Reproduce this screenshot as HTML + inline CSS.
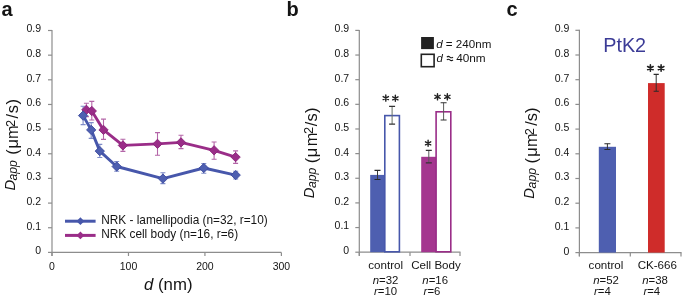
<!DOCTYPE html><html><head><meta charset="utf-8"><style>html,body{margin:0;padding:0;background:#fff;width:685px;height:298px;overflow:hidden}svg{display:block;will-change:transform}text{font-family:"Liberation Sans",sans-serif}</style></head><body>
<svg width="685" height="298" viewBox="0 0 685 298">
<rect width="685" height="298" fill="#fff"/>
<text x="1.5" y="15.5" font-size="20" font-weight="bold" fill="#141414">a</text>
<text x="286.5" y="15.5" font-size="20" font-weight="bold" fill="#141414">b</text>
<text x="506.5" y="15.5" font-size="20" font-weight="bold" fill="#141414">c</text>
<line x1="52" y1="30.0" x2="52" y2="256.0" stroke="#8d8d8d" stroke-width="1.2"/>
<line x1="48" y1="252.40" x2="52" y2="252.40" stroke="#8d8d8d" stroke-width="1.2"/>
<text x="41.1" y="254.30" text-anchor="end" font-size="10.5" fill="#141414">0</text>
<line x1="48" y1="227.74" x2="52" y2="227.74" stroke="#8d8d8d" stroke-width="1.2"/>
<text x="41.1" y="229.64" text-anchor="end" font-size="10.5" fill="#141414">0.1</text>
<line x1="48" y1="203.09" x2="52" y2="203.09" stroke="#8d8d8d" stroke-width="1.2"/>
<text x="41.1" y="204.99" text-anchor="end" font-size="10.5" fill="#141414">0.2</text>
<line x1="48" y1="178.43" x2="52" y2="178.43" stroke="#8d8d8d" stroke-width="1.2"/>
<text x="41.1" y="180.33" text-anchor="end" font-size="10.5" fill="#141414">0.3</text>
<line x1="48" y1="153.78" x2="52" y2="153.78" stroke="#8d8d8d" stroke-width="1.2"/>
<text x="41.1" y="155.68" text-anchor="end" font-size="10.5" fill="#141414">0.4</text>
<line x1="48" y1="129.12" x2="52" y2="129.12" stroke="#8d8d8d" stroke-width="1.2"/>
<text x="41.1" y="131.02" text-anchor="end" font-size="10.5" fill="#141414">0.5</text>
<line x1="48" y1="104.47" x2="52" y2="104.47" stroke="#8d8d8d" stroke-width="1.2"/>
<text x="41.1" y="106.37" text-anchor="end" font-size="10.5" fill="#141414">0.6</text>
<line x1="48" y1="79.81" x2="52" y2="79.81" stroke="#8d8d8d" stroke-width="1.2"/>
<text x="41.1" y="81.71" text-anchor="end" font-size="10.5" fill="#141414">0.7</text>
<line x1="48" y1="55.16" x2="52" y2="55.16" stroke="#8d8d8d" stroke-width="1.2"/>
<text x="41.1" y="57.06" text-anchor="end" font-size="10.5" fill="#141414">0.8</text>
<line x1="48" y1="30.50" x2="52" y2="30.50" stroke="#8d8d8d" stroke-width="1.2"/>
<text x="41.1" y="32.40" text-anchor="end" font-size="10.5" fill="#141414">0.9</text>
<line x1="52" y1="252.4" x2="281.4" y2="252.4" stroke="#8d8d8d" stroke-width="1.2"/>
<line x1="52.00" y1="252.4" x2="52.00" y2="256" stroke="#8d8d8d" stroke-width="1.2"/>
<text x="52.00" y="269.8" text-anchor="middle" font-size="10.5" fill="#141414">0</text>
<line x1="128.47" y1="252.4" x2="128.47" y2="256" stroke="#8d8d8d" stroke-width="1.2"/>
<text x="128.47" y="269.8" text-anchor="middle" font-size="10.5" fill="#141414">100</text>
<line x1="204.93" y1="252.4" x2="204.93" y2="256" stroke="#8d8d8d" stroke-width="1.2"/>
<text x="204.93" y="269.8" text-anchor="middle" font-size="10.5" fill="#141414">200</text>
<line x1="281.40" y1="252.4" x2="281.40" y2="256" stroke="#8d8d8d" stroke-width="1.2"/>
<text x="281.40" y="269.8" text-anchor="middle" font-size="10.5" fill="#141414">300</text>
<text x="144" y="290.0" font-size="16.8" fill="#141414"><tspan font-style="italic">d</tspan> (nm)</text>
<text transform="translate(15.10,190.60) rotate(-90)" font-size="14.8" font-style="italic" fill="#141414">D</text>
<text transform="translate(16.90,180.50) rotate(-90)" font-size="12.2" font-style="italic" fill="#141414">app</text>
<text transform="translate(18.30,154.70) rotate(-90)" font-size="16.4" fill="#141414">(</text>
<text transform="translate(18.30,148.54) rotate(-90)" font-size="16.4" fill="#141414">μ</text>
<text transform="translate(18.30,139.09) rotate(-90)" font-size="16.4" fill="#141414">m</text>
<text transform="translate(14.60,127.00) rotate(-90)" font-size="12.8" fill="#141414">2</text>
<text transform="translate(18.30,118.60) rotate(-90)" font-size="16.4" fill="#141414"><tspan letter-spacing="0.7">/s)</tspan></text>
<path d="M83.1 106.3V124.6" stroke="#7f8cc8" stroke-width="1.1" fill="none"/>
<path d="M80.6 106.3H85.6M80.6 124.6H85.6" stroke="#7f8cc8" stroke-width="1.1" fill="none"/>
<path d="M91.2 122.6V138.4" stroke="#7f8cc8" stroke-width="1.1" fill="none"/>
<path d="M88.7 122.6H93.7M88.7 138.4H93.7" stroke="#7f8cc8" stroke-width="1.1" fill="none"/>
<path d="M99.8 144.4V157.5" stroke="#7f8cc8" stroke-width="1.1" fill="none"/>
<path d="M97.3 144.4H102.3M97.3 157.5H102.3" stroke="#7f8cc8" stroke-width="1.1" fill="none"/>
<path d="M116.7 161.5V171.3" stroke="#7f8cc8" stroke-width="1.1" fill="none"/>
<path d="M114.2 161.5H119.2M114.2 171.3H119.2" stroke="#7f8cc8" stroke-width="1.1" fill="none"/>
<path d="M162.9 172.7V183.6" stroke="#7f8cc8" stroke-width="1.1" fill="none"/>
<path d="M160.4 172.7H165.4M160.4 183.6H165.4" stroke="#7f8cc8" stroke-width="1.1" fill="none"/>
<path d="M203.8 163.5V173.2" stroke="#7f8cc8" stroke-width="1.1" fill="none"/>
<path d="M201.3 163.5H206.3M201.3 173.2H206.3" stroke="#7f8cc8" stroke-width="1.1" fill="none"/>
<path d="M235.7 171.2V179.0" stroke="#7f8cc8" stroke-width="1.1" fill="none"/>
<path d="M233.2 171.2H238.2M233.2 179.0H238.2" stroke="#7f8cc8" stroke-width="1.1" fill="none"/>
<path d="M86.4 103.2V116.6" stroke="#b466a8" stroke-width="1.1" fill="none"/>
<path d="M83.9 103.2H88.9M83.9 116.6H88.9" stroke="#b466a8" stroke-width="1.1" fill="none"/>
<path d="M91.8 101.4V120.0" stroke="#b466a8" stroke-width="1.1" fill="none"/>
<path d="M89.3 101.4H94.3M89.3 120.0H94.3" stroke="#b466a8" stroke-width="1.1" fill="none"/>
<path d="M103.5 119.1V139.4" stroke="#b466a8" stroke-width="1.1" fill="none"/>
<path d="M101.0 119.1H106.0M101.0 139.4H106.0" stroke="#b466a8" stroke-width="1.1" fill="none"/>
<path d="M122.9 139.3V151.4" stroke="#b466a8" stroke-width="1.1" fill="none"/>
<path d="M120.4 139.3H125.4M120.4 151.4H125.4" stroke="#b466a8" stroke-width="1.1" fill="none"/>
<path d="M157.5 132.6V155.2" stroke="#b466a8" stroke-width="1.1" fill="none"/>
<path d="M155.0 132.6H160.0M155.0 155.2H160.0" stroke="#b466a8" stroke-width="1.1" fill="none"/>
<path d="M181.0 135.3V148.6" stroke="#b466a8" stroke-width="1.1" fill="none"/>
<path d="M178.5 135.3H183.5M178.5 148.6H183.5" stroke="#b466a8" stroke-width="1.1" fill="none"/>
<path d="M214.1 142.0V159.2" stroke="#b466a8" stroke-width="1.1" fill="none"/>
<path d="M211.6 142.0H216.6M211.6 159.2H216.6" stroke="#b466a8" stroke-width="1.1" fill="none"/>
<path d="M235.6 150.9V163.4" stroke="#b466a8" stroke-width="1.1" fill="none"/>
<path d="M233.1 150.9H238.1M233.1 163.4H238.1" stroke="#b466a8" stroke-width="1.1" fill="none"/>
<polyline points="86.4,109.8 91.8,111.0 103.5,129.9 122.9,145.4 157.5,143.9 181.0,142.4 214.1,150.3 235.6,157.1" fill="none" stroke="#9a2d88" stroke-width="2.9" stroke-linejoin="round"/>
<path d="M86.4 105.14999999999999L91.05000000000001 109.8L86.4 114.45L81.75 109.8Z" fill="#9a2d88" stroke="#8a2479" stroke-width="0.9"/>
<path d="M91.8 106.35L96.45 111.0L91.8 115.65L87.14999999999999 111.0Z" fill="#9a2d88" stroke="#8a2479" stroke-width="0.9"/>
<path d="M103.5 125.25L108.15 129.9L103.5 134.55L98.85 129.9Z" fill="#9a2d88" stroke="#8a2479" stroke-width="0.9"/>
<path d="M122.9 140.75L127.55000000000001 145.4L122.9 150.05L118.25 145.4Z" fill="#9a2d88" stroke="#8a2479" stroke-width="0.9"/>
<path d="M157.5 139.25L162.15 143.9L157.5 148.55L152.85 143.9Z" fill="#9a2d88" stroke="#8a2479" stroke-width="0.9"/>
<path d="M181.0 137.75L185.65 142.4L181.0 147.05L176.35 142.4Z" fill="#9a2d88" stroke="#8a2479" stroke-width="0.9"/>
<path d="M214.1 145.65L218.75 150.3L214.1 154.95000000000002L209.45 150.3Z" fill="#9a2d88" stroke="#8a2479" stroke-width="0.9"/>
<path d="M235.6 152.45L240.25 157.1L235.6 161.75L230.95 157.1Z" fill="#9a2d88" stroke="#8a2479" stroke-width="0.9"/>
<polyline points="83.1,115.6 91.2,129.9 99.8,151.1 116.7,166.5 162.9,178.6 203.8,168.0 235.7,175.1" fill="none" stroke="#4757ab" stroke-width="2.9" stroke-linejoin="round"/>
<path d="M83.1 110.94999999999999L87.75 115.6L83.1 120.25L78.44999999999999 115.6Z" fill="#4e5fb0" stroke="#3b4a9e" stroke-width="0.9"/>
<path d="M91.2 125.25L95.85000000000001 129.9L91.2 134.55L86.55 129.9Z" fill="#4e5fb0" stroke="#3b4a9e" stroke-width="0.9"/>
<path d="M99.8 146.45L104.45 151.1L99.8 155.75L95.14999999999999 151.1Z" fill="#4e5fb0" stroke="#3b4a9e" stroke-width="0.9"/>
<path d="M116.7 161.85L121.35000000000001 166.5L116.7 171.15L112.05 166.5Z" fill="#4e5fb0" stroke="#3b4a9e" stroke-width="0.9"/>
<path d="M162.9 173.95L167.55 178.6L162.9 183.25L158.25 178.6Z" fill="#4e5fb0" stroke="#3b4a9e" stroke-width="0.9"/>
<path d="M203.8 163.35L208.45000000000002 168.0L203.8 172.65L199.15 168.0Z" fill="#4e5fb0" stroke="#3b4a9e" stroke-width="0.9"/>
<path d="M235.7 170.45L240.35 175.1L235.7 179.75L231.04999999999998 175.1Z" fill="#4e5fb0" stroke="#3b4a9e" stroke-width="0.9"/>
<line x1="65" y1="221.2" x2="95.6" y2="221.2" stroke="#4757ab" stroke-width="3.0"/>
<path d="M80.4 217.29999999999998L84.30000000000001 221.2L80.4 225.1L76.5 221.2Z" fill="#4757ab"/>
<line x1="65" y1="235.4" x2="95.6" y2="235.4" stroke="#9a2d88" stroke-width="3.0"/>
<path d="M80.4 231.5L84.30000000000001 235.4L80.4 239.3L76.5 235.4Z" fill="#9a2d88"/>
<text x="101.2" y="223.9" font-size="11.85" fill="#141414">NRK - lamellipodia (n=32, r=10)</text>
<text x="101.2" y="237.6" font-size="11.85" fill="#141414">NRK cell body (n=16, r=6)</text>
<line x1="359.3" y1="29.9" x2="359.3" y2="255.79999999999998" stroke="#8d8d8d" stroke-width="1.2"/>
<line x1="355.3" y1="252.20" x2="359.3" y2="252.20" stroke="#8d8d8d" stroke-width="1.2"/>
<text x="349.2" y="254.10" text-anchor="end" font-size="10.5" fill="#141414">0</text>
<line x1="355.3" y1="227.56" x2="359.3" y2="227.56" stroke="#8d8d8d" stroke-width="1.2"/>
<text x="349.2" y="229.46" text-anchor="end" font-size="10.5" fill="#141414">0.1</text>
<line x1="355.3" y1="202.91" x2="359.3" y2="202.91" stroke="#8d8d8d" stroke-width="1.2"/>
<text x="349.2" y="204.81" text-anchor="end" font-size="10.5" fill="#141414">0.2</text>
<line x1="355.3" y1="178.27" x2="359.3" y2="178.27" stroke="#8d8d8d" stroke-width="1.2"/>
<text x="349.2" y="180.17" text-anchor="end" font-size="10.5" fill="#141414">0.3</text>
<line x1="355.3" y1="153.62" x2="359.3" y2="153.62" stroke="#8d8d8d" stroke-width="1.2"/>
<text x="349.2" y="155.52" text-anchor="end" font-size="10.5" fill="#141414">0.4</text>
<line x1="355.3" y1="128.98" x2="359.3" y2="128.98" stroke="#8d8d8d" stroke-width="1.2"/>
<text x="349.2" y="130.88" text-anchor="end" font-size="10.5" fill="#141414">0.5</text>
<line x1="355.3" y1="104.33" x2="359.3" y2="104.33" stroke="#8d8d8d" stroke-width="1.2"/>
<text x="349.2" y="106.23" text-anchor="end" font-size="10.5" fill="#141414">0.6</text>
<line x1="355.3" y1="79.69" x2="359.3" y2="79.69" stroke="#8d8d8d" stroke-width="1.2"/>
<text x="349.2" y="81.59" text-anchor="end" font-size="10.5" fill="#141414">0.7</text>
<line x1="355.3" y1="55.04" x2="359.3" y2="55.04" stroke="#8d8d8d" stroke-width="1.2"/>
<text x="349.2" y="56.94" text-anchor="end" font-size="10.5" fill="#141414">0.8</text>
<line x1="355.3" y1="30.40" x2="359.3" y2="30.40" stroke="#8d8d8d" stroke-width="1.2"/>
<text x="349.2" y="32.30" text-anchor="end" font-size="10.5" fill="#141414">0.9</text>
<line x1="359.3" y1="252.2" x2="460.5" y2="252.2" stroke="#8d8d8d" stroke-width="1.2"/>
<line x1="359.3" y1="252.2" x2="359.3" y2="256" stroke="#8d8d8d" stroke-width="1.2"/>
<line x1="410" y1="252.2" x2="410" y2="256" stroke="#8d8d8d" stroke-width="1.2"/>
<line x1="460" y1="252.2" x2="460" y2="256" stroke="#8d8d8d" stroke-width="1.2"/>
<text transform="translate(313.90,198.20) rotate(-90)" font-size="14.8" font-style="italic" fill="#141414">D</text>
<text transform="translate(315.70,188.10) rotate(-90)" font-size="12.2" font-style="italic" fill="#141414">app</text>
<text transform="translate(317.10,163.30) rotate(-90)" font-size="16.4" fill="#141414">(</text>
<text transform="translate(317.10,157.14) rotate(-90)" font-size="16.4" fill="#141414">μ</text>
<text transform="translate(317.10,146.19) rotate(-90)" font-size="16.4" fill="#141414">m</text>
<text transform="translate(313.40,134.00) rotate(-90)" font-size="12.8" fill="#141414">2</text>
<text transform="translate(317.10,126.20) rotate(-90)" font-size="16.4" fill="#141414"><tspan letter-spacing="0.2">/s)</tspan></text>
<rect x="370.2" y="174.9" width="14.6" height="77.3" fill="#4e5fb0"/>
<rect x="384.8" y="115.6" width="14.6" height="136.2" fill="#fff" stroke="#4757ab" stroke-width="1.6"/>
<rect x="421.2" y="156.8" width="14.8" height="95.4" fill="#a4368f"/>
<rect x="436.1" y="111.8" width="14.7" height="140" fill="#fff" stroke="#9a2d88" stroke-width="1.6"/>
<path d="M377.5 170.4V179.5" stroke="#3a3a3a" stroke-width="1.0" fill="none"/>
<path d="M374.5 170.4H380.5M374.5 179.5H380.5" stroke="#2a2a2a" stroke-width="1.1" fill="none"/>
<path d="M392.1 106.4V124.1" stroke="#667066" stroke-width="1.0" fill="none"/>
<path d="M389.1 106.4H395.1M389.1 124.1H395.1" stroke="#333" stroke-width="1.1" fill="none"/>
<path d="M428.8 150.4V162.9" stroke="#5a5a5a" stroke-width="1.0" fill="none"/>
<path d="M425.8 150.4H431.8M425.8 162.9H431.8" stroke="#333" stroke-width="1.1" fill="none"/>
<path d="M443.6 102.7V120.0" stroke="#5a5a5a" stroke-width="1.0" fill="none"/>
<path d="M440.6 102.7H446.6M440.6 120.0H446.6" stroke="#333" stroke-width="1.1" fill="none"/>
<path d="M385.80 101.15L385.80 95.05M383.16 99.62L388.44 96.57M383.16 96.57L388.44 99.62" stroke="#222" stroke-width="1.4" stroke-linecap="round" fill="none"/>
<path d="M395.35 101.35L395.35 95.25M392.71 99.83L397.99 96.77M392.71 96.77L397.99 99.83" stroke="#222" stroke-width="1.4" stroke-linecap="round" fill="none"/>
<path d="M428.10 146.35L428.10 140.25M425.46 144.83L430.74 141.78M425.46 141.78L430.74 144.83" stroke="#222" stroke-width="1.4" stroke-linecap="round" fill="none"/>
<path d="M437.50 99.90L437.50 93.70M434.82 98.35L440.18 95.25M434.82 95.25L440.18 98.35" stroke="#222" stroke-width="1.4" stroke-linecap="round" fill="none"/>
<path d="M447.35 99.90L447.35 93.70M444.67 98.35L450.03 95.25M444.67 95.25L450.03 98.35" stroke="#222" stroke-width="1.4" stroke-linecap="round" fill="none"/>
<rect x="421.1" y="37" width="12.8" height="12.1" fill="#222"/>
<rect x="421.3" y="54.3" width="12.8" height="12.4" fill="#fff" stroke="#222" stroke-width="1.6"/>
<text x="436.2" y="47.8" font-size="11.6" fill="#141414"><tspan font-style="italic">d</tspan> = 240nm</text>
<text x="436.4" y="62.3" font-size="11.4" fill="#141414" font-style="italic">d</text>
<text x="456.2" y="62.3" font-size="11.8" fill="#141414">40nm</text>
<path d="M446.8 57.1q1.55 -1.4 3.1 0t3.1 0M446.8 59.9q1.55 -1.4 3.1 0t3.1 0" stroke="#141414" stroke-width="1.05" fill="none"/>
<text x="385.7" y="268.9" text-anchor="middle" font-size="11.6" fill="#141414">control</text>
<text x="436" y="268.9" text-anchor="middle" font-size="11.6" fill="#141414">Cell Body</text>
<text x="385.5" y="283.8" text-anchor="middle" font-size="11.4" fill="#141414"><tspan font-style="italic">n</tspan>=32</text>
<text x="385.5" y="294.6" text-anchor="middle" font-size="11.4" fill="#141414"><tspan font-style="italic">r</tspan>=10</text>
<text x="435.2" y="283.8" text-anchor="middle" font-size="11.4" fill="#141414"><tspan font-style="italic">n</tspan>=16</text>
<text x="432" y="294.6" text-anchor="middle" font-size="11.4" fill="#141414"><tspan font-style="italic">r</tspan>=6</text>
<line x1="579.4" y1="29.8" x2="579.4" y2="256.2" stroke="#8d8d8d" stroke-width="1.2"/>
<line x1="575.4" y1="252.60" x2="579.4" y2="252.60" stroke="#8d8d8d" stroke-width="1.2"/>
<text x="569.3" y="254.50" text-anchor="end" font-size="10.5" fill="#141414">0</text>
<line x1="575.4" y1="227.90" x2="579.4" y2="227.90" stroke="#8d8d8d" stroke-width="1.2"/>
<text x="569.3" y="229.80" text-anchor="end" font-size="10.5" fill="#141414">0.1</text>
<line x1="575.4" y1="203.20" x2="579.4" y2="203.20" stroke="#8d8d8d" stroke-width="1.2"/>
<text x="569.3" y="205.10" text-anchor="end" font-size="10.5" fill="#141414">0.2</text>
<line x1="575.4" y1="178.50" x2="579.4" y2="178.50" stroke="#8d8d8d" stroke-width="1.2"/>
<text x="569.3" y="180.40" text-anchor="end" font-size="10.5" fill="#141414">0.3</text>
<line x1="575.4" y1="153.80" x2="579.4" y2="153.80" stroke="#8d8d8d" stroke-width="1.2"/>
<text x="569.3" y="155.70" text-anchor="end" font-size="10.5" fill="#141414">0.4</text>
<line x1="575.4" y1="129.10" x2="579.4" y2="129.10" stroke="#8d8d8d" stroke-width="1.2"/>
<text x="569.3" y="131.00" text-anchor="end" font-size="10.5" fill="#141414">0.5</text>
<line x1="575.4" y1="104.40" x2="579.4" y2="104.40" stroke="#8d8d8d" stroke-width="1.2"/>
<text x="569.3" y="106.30" text-anchor="end" font-size="10.5" fill="#141414">0.6</text>
<line x1="575.4" y1="79.70" x2="579.4" y2="79.70" stroke="#8d8d8d" stroke-width="1.2"/>
<text x="569.3" y="81.60" text-anchor="end" font-size="10.5" fill="#141414">0.7</text>
<line x1="575.4" y1="55.00" x2="579.4" y2="55.00" stroke="#8d8d8d" stroke-width="1.2"/>
<text x="569.3" y="56.90" text-anchor="end" font-size="10.5" fill="#141414">0.8</text>
<line x1="575.4" y1="30.30" x2="579.4" y2="30.30" stroke="#8d8d8d" stroke-width="1.2"/>
<text x="569.3" y="32.20" text-anchor="end" font-size="10.5" fill="#141414">0.9</text>
<line x1="579.4" y1="252.6" x2="681.5" y2="252.6" stroke="#8d8d8d" stroke-width="1.2"/>
<line x1="579.4" y1="252.6" x2="579.4" y2="256.4" stroke="#8d8d8d" stroke-width="1.2"/>
<line x1="630.3" y1="252.6" x2="630.3" y2="256.4" stroke="#8d8d8d" stroke-width="1.2"/>
<line x1="681" y1="252.6" x2="681" y2="256.4" stroke="#8d8d8d" stroke-width="1.2"/>
<text transform="translate(534.00,198.80) rotate(-90)" font-size="14.8" font-style="italic" fill="#141414">D</text>
<text transform="translate(535.80,188.40) rotate(-90)" font-size="12.2" font-style="italic" fill="#141414">app</text>
<text transform="translate(537.20,163.60) rotate(-90)" font-size="16.4" fill="#141414">(</text>
<text transform="translate(537.20,156.84) rotate(-90)" font-size="16.4" fill="#141414">μ</text>
<text transform="translate(537.20,146.89) rotate(-90)" font-size="16.4" fill="#141414">m</text>
<text transform="translate(533.50,135.30) rotate(-90)" font-size="12.8" fill="#141414">2</text>
<text transform="translate(537.20,125.70) rotate(-90)" font-size="16.4" fill="#141414"><tspan letter-spacing="0.0">/s)</tspan></text>
<text x="603.2" y="52.4" font-size="19.8" fill="#3b3b96">PtK2</text>
<rect x="598.8" y="146.8" width="17.2" height="105.8" fill="#4e5fb0"/>
<rect x="648.0" y="83.1" width="16.7" height="169.5" fill="#cf2c2a"/>
<path d="M607.4 143.7V149.5" stroke="#333" stroke-width="1.0" fill="none"/>
<path d="M604.4 143.7H610.4M604.4 149.5H610.4" stroke="#2a2a2a" stroke-width="1.1" fill="none"/>
<path d="M656.2 74.4V91.2" stroke="#303030" stroke-width="1.0" fill="none"/>
<path d="M653.6 74.4H658.8000000000001M653.6 91.2H658.8000000000001" stroke="#2a2a2a" stroke-width="1.1" fill="none"/>
<path d="M650.40 71.30L650.40 64.90M647.63 69.70L653.17 66.50M647.63 66.50L653.17 69.70" stroke="#222" stroke-width="1.6" stroke-linecap="round" fill="none"/>
<path d="M661.10 71.30L661.10 64.90M658.33 69.70L663.87 66.50M658.33 66.50L663.87 69.70" stroke="#222" stroke-width="1.6" stroke-linecap="round" fill="none"/>
<text x="606" y="268.9" text-anchor="middle" font-size="11.6" fill="#141414">control</text>
<text x="657.3" y="268.9" text-anchor="middle" font-size="11.6" fill="#141414">CK-666</text>
<text x="606" y="283.8" text-anchor="middle" font-size="11.4" fill="#141414"><tspan font-style="italic">n</tspan>=52</text>
<text x="602.4" y="294.6" text-anchor="middle" font-size="11.4" fill="#141414"><tspan font-style="italic">r</tspan>=4</text>
<text x="655" y="283.8" text-anchor="middle" font-size="11.4" fill="#141414"><tspan font-style="italic">n</tspan>=38</text>
<text x="651.8" y="294.6" text-anchor="middle" font-size="11.4" fill="#141414"><tspan font-style="italic">r</tspan>=4</text>
</svg></body></html>
